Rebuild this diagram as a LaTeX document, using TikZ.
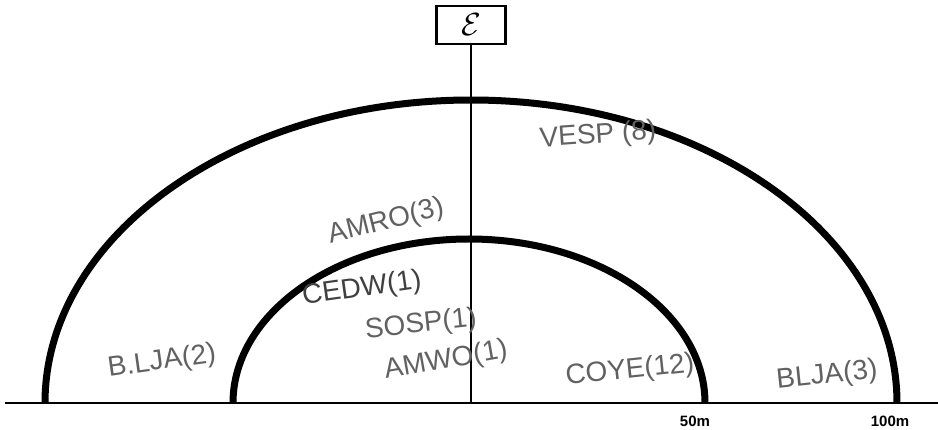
\documentclass[tikz,border=0pt]{standalone}
\usepackage{graphicx}
\usepackage{fontspec}
\setmainfont{Liberation Sans}
\begin{document}
\begin{tikzpicture}[x=1pt,y=-1pt,
  arch/.style={line width=7pt},
  axis/.style={line width=2.8pt},
  hand/.style={text=black!62,font=\fontsize{28}{28}\selectfont,inner sep=0pt},
  dist/.style={font=\bfseries\fontsize{15}{15}\selectfont,inner sep=0pt}]
\useasboundingbox (0,0) rectangle (938,430);
% baseline and centre line
\coordinate (bl) at (5,403);
\coordinate (br) at (938,403);
\coordinate (c0) at (471,403);
\node[draw,line width=2.6pt,minimum width=69pt,minimum height=38pt,inner sep=0pt] (E) at (471,25) {};
\node[inner sep=0pt] (Elbl) at (E.center) {\scalebox{3.2}{$\mathcal{E}$}};
\draw[axis] (bl) -- (br);
\draw[axis] (E.south) -- (c0);
% arches
\draw[arch] (45,403) arc[start angle=180,end angle=0,x radius=426,y radius=-303];
\draw[arch] (233,403) arc[start angle=180,end angle=0,x radius=236,y radius=-164];
% labels
\node[hand,rotate=4] (vesp) at (598,136) {VESP (8)};
\node[hand,rotate=14] (amro) at (386,222) {AMRO(3)};
\node[hand,rotate=8,text=black!75] (cedw) at (362,289) {CEDW(1)};
\node[hand,rotate=6] (sosp) at (421,325) {SOSP(1)};
\node[hand,rotate=10] (amwo) at (446,361) {AMWO(1)};
\node[hand,rotate=8] (blja2) at (162,362) {B.LJA(2)};
\node[hand,rotate=6] (coye) at (630,371) {COYE(12)};
\node[hand,rotate=6] (blja3) at (827,376) {BLJA(3)};
\node[dist] (m50) at (695,421) {50m};
\node[dist] (m100) at (890,421) {100m};
\end{tikzpicture}
\end{document}
